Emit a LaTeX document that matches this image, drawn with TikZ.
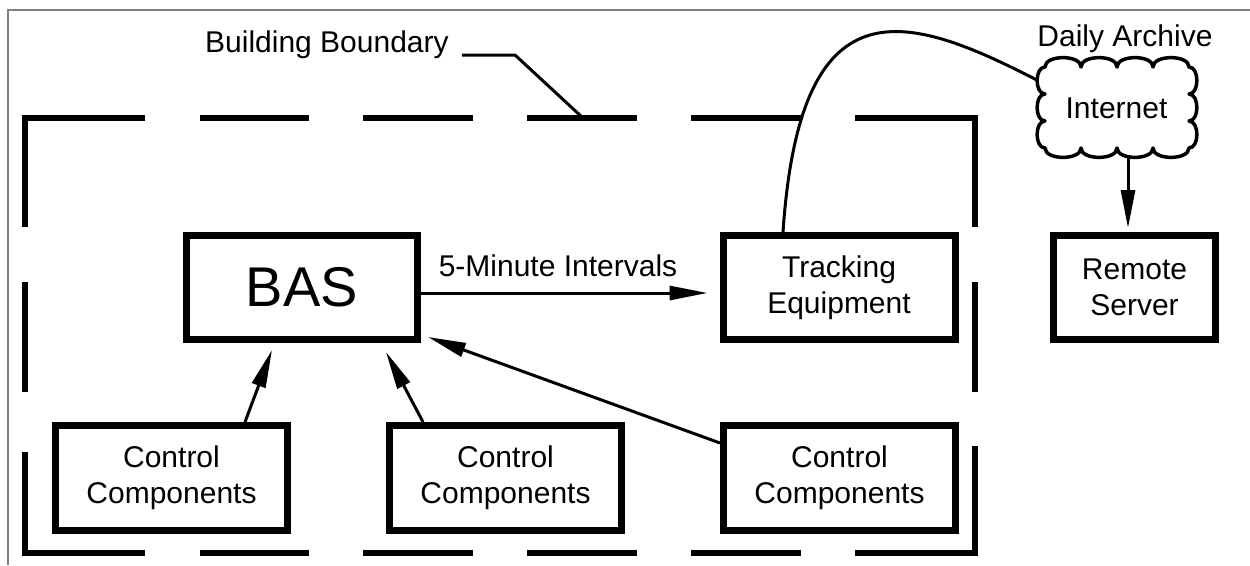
\documentclass[tikz,border=0pt]{standalone}
\usepackage{fontspec}
\setmainfont{Liberation Sans}
\usetikzlibrary{arrows.meta,calc}
\begin{document}
\begin{tikzpicture}[x=1pt,y=-1pt,
  box/.style={draw,line width=7pt,minimum width=231pt,minimum height=104pt,align=center,font=\fontsize{30}{36}\selectfont,inner sep=0pt},
  lbl/.style={font=\fontsize{30}{36}\selectfont,inner sep=0pt},
  conn/.style={line width=3pt,-{Triangle[length=38pt,width=14pt]}},
  bnd/.style={line width=6.5pt},
  thinline/.style={line width=3pt}
  ]
\useasboundingbox (0,0) rectangle (1250,565);
\fill[white] (0,0) rectangle (1250,565);
\draw[gray, line width=1.5pt] (8,565) -- (8,10) -- (1250,10);

% building boundary (dashed outline)
\draw[bnd] (25,227) -- (25,118) -- (145,118);
\draw[bnd] (855,118) -- (975,118) -- (975,227);
\draw[bnd] (25,452) -- (25,553) -- (145,553);
\draw[bnd] (855,553) -- (975,553) -- (975,446);
\foreach \a/\b in {200/309,363/473,527/637,691/801}{
  \draw[bnd] (\a,118) -- (\b,118);
  \draw[bnd] (\a,553) -- (\b,553);}
\draw[bnd] (25,282) -- (25,392);
\draw[bnd] (975,282) -- (975,392);

% nodes
\node[box,font=\fontsize{56}{60}\selectfont] (bas) at (302,287.5) {BAS};
\node[box,minimum width=232pt] (trk) at (839,287.5) {Tracking\\Equipment};
\node[box,minimum width=162pt] (rs) at (1134.5,287.5) {Remote\\Server};
\node[box,minimum width=232pt,minimum height=105pt] (c1) at (171.5,478) {Control\\Components};
\node[box,minimum width=232pt,minimum height=105pt] (c2) at (505.5,478) {Control\\Components};
\node[box,minimum width=232pt,minimum height=105pt] (c3) at (839.5,478) {Control\\Components};
\node[lbl,minimum width=159pt,minimum height=100pt] (cloud) at (1116.5,108) {Internet};

% cloud outline
\draw[line width=3.5pt,line join=round] (1045,67)
  \foreach \i in {1,...,4}{ .. controls +(0,-12.5) and +(0,-12.5) .. ++(36,0)}
  \foreach \i in {1,2,3}{ .. controls +(10.5,0) and +(10.5,0) .. ++(0,27)}
  \foreach \i in {1,...,4}{ .. controls +(0,12.5) and +(0,12.5) .. ++(-36,0)}
  \foreach \i in {1,2,3}{ .. controls +(-10.5,0) and +(-10.5,0) .. ++(0,-27)}
  -- cycle;

% labels
\node[lbl,anchor=base west] (bb) at (205,52) {Building Boundary};
\node[lbl,anchor=base] (da) at (1125,46) {Daily Archive};
\node[lbl,anchor=base] (fm) at (558,276) {5-Minute Intervals};

\coordinate (bbk) at (515,55);
\coordinate (bbe) at (583,118);
\draw[thinline,shorten <=13pt] (bbk -| bb.east) -- (bbk) -- (bbe);

% connectors
\draw[conn,shorten >=12pt] ([yshift=-5.5pt]bas.east) -- ([yshift=-5.5pt]trk.west);
\draw[conn] ([xshift=73.5pt]c1.north) -- ([xshift=-30pt,yshift=-7pt]bas.south);
\draw[conn] ([xshift=-82.5pt]c2.north) -- ([xshift=84pt,yshift=-9pt]bas.south);
\draw[conn] ([yshift=35pt]c3.west) -- ([xshift=7pt,yshift=6pt]bas.south east);
\draw[conn] ([xshift=11.5pt]cloud.south) -- ([xshift=-6.5pt,yshift=4pt]rs.north);
\draw[thinline] ([xshift=-56pt]trk.north) .. controls +(17,-252) and +(-132,-68) .. ([yshift=28pt]cloud.west);
\end{tikzpicture}
\end{document}
